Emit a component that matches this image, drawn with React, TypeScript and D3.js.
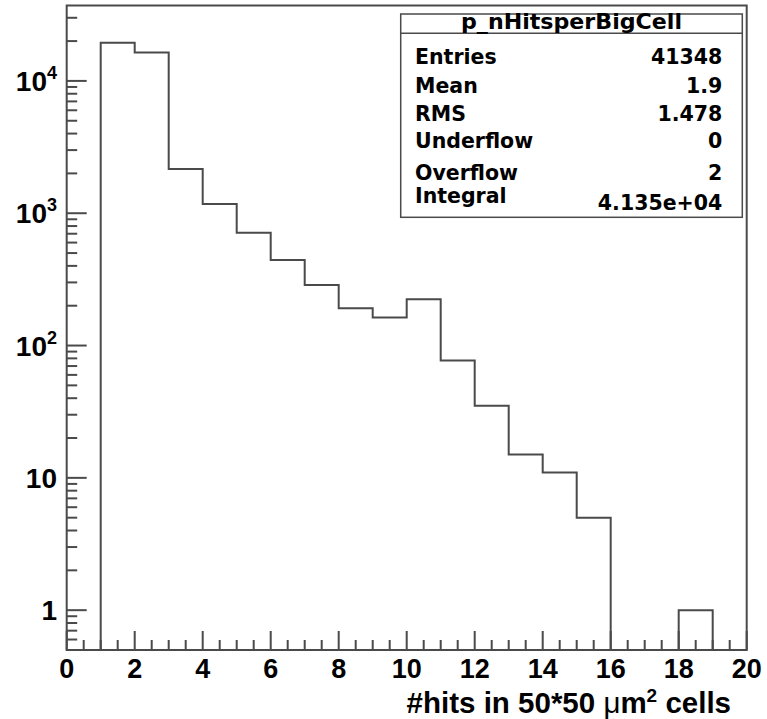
import React from "react";
import * as d3 from "d3";

const binLow: number[] = [0, 1, 2, 3, 4, 5, 6, 7, 8, 9, 10, 11, 12, 13, 14, 15, 16, 17, 18, 19];
const counts: number[] = [0, 19450, 16400, 2160, 1175, 713, 444, 287, 191, 163, 224, 77, 35, 15, 11, 5, 0, 0, 1, 0];
const xTickLabels: string[] = ["0", "2", "4", "6", "8", "10", "12", "14", "16", "18", "20"];
const yMajor: number[] = [1, 10, 100, 1000, 10000];
const statsTitle = "p_nHitsperBigCell";
const statsNames: string[] = ["Entries", "Mean", "RMS", "Underflow", "Overflow", "Integral"];
const statsValues: string[] = ["41348", "1.9", "1.478", "0", "2", "4.135e+04"];

const W = 767, H = 719;
const L = 66.7, R = 746.7, T = 5.5, B = 650;
const stroke = "#4a4a4a";
const font = "'Liberation Sans', Arial, Helvetica, sans-serif";
const boxFont = "'DejaVu Sans', sans-serif";

export default function App() {
  const x = d3.scaleLinear().domain([0, 20]).range([L, R]);
  const y = d3.scaleLog().domain([0.5, 37150]).range([B, T]);

  const path = d3.path();
  path.moveTo(x(binLow[0]), B);
  binLow.forEach((lo, i) => {
    const c = counts[i];
    const yy = c > 0 ? y(c) : B;
    path.lineTo(x(lo), yy);
    path.lineTo(x(lo + 1), yy);
  });
  path.lineTo(x(binLow[binLow.length - 1] + 1), B);

  const yMinor: number[] = [];
  for (let e = -1; e <= 4; e++) {
    for (let m = 2; m <= 9; m++) {
      const v = m * Math.pow(10, e);
      if (v >= 0.5 && v <= 37150) yMinor.push(v);
    }
  }
  const xMinor = d3.range(0, 20.01, 0.5);
  const xMajorVals = xTickLabels.map((s) => +s);

  const bxL = 400.7, bxR = 742.3, bxT = 14, bxB = 217.3, sep = 33.3;
  const rowY = [64.3, 93.3, 120.7, 148.3, 180, 203];
  const valY = [64.3, 93.3, 120.7, 148.3, 180, 210];

  return (
    <svg width={W} height={H} style={{ position: "absolute", left: 0, top: 0, background: "#fff" }}>
      <rect x={0} y={0} width={W} height={H} fill="#fff" />
      <path d={path.toString()} fill="none" stroke={stroke} strokeWidth={2} />
      {yMajor.map((v) => (
        <line key={"ym" + v} x1={L} x2={L + 20} y1={y(v)} y2={y(v)} stroke={stroke} strokeWidth={2} />
      ))}
      {yMinor.map((v) => (
        <line key={"yn" + v} x1={L} x2={L + 10.5} y1={y(v)} y2={y(v)} stroke={stroke} strokeWidth={2} />
      ))}
      {xMinor.map((v) => {
        const major = xMajorVals.includes(v);
        return (
          <line key={"xt" + v} x1={x(v)} x2={x(v)} y1={B} y2={B - (major ? 19 : 10)} stroke={stroke} strokeWidth={2} />
        );
      })}
      <rect x={L} y={T} width={R - L} height={B - T} fill="none" stroke={stroke} strokeWidth={2} />
      {yMajor.map((v) => {
        const e = Math.round(Math.log10(v));
        const yy = y(v) + 10;
        if (e === 0)
          return (
            <text key={"yl" + v} x={57} y={yy} textAnchor="end" fontFamily={font} fontWeight="bold" fontSize={28}>1</text>
          );
        if (e === 1)
          return (
            <text key={"yl" + v} x={57} y={yy} textAnchor="end" fontFamily={font} fontWeight="bold" fontSize={28}>10</text>
          );
        return (
          <text key={"yl" + v} x={57} y={yy} textAnchor="end" fontFamily={font} fontWeight="bold" fontSize={28}>
            10<tspan fontSize={18} dy={-12}>{e}</tspan>
          </text>
        );
      })}
      {xTickLabels.map((s) => (
        <text key={"xl" + s} x={x(+s)} y={678} textAnchor="middle" fontFamily={font} fontWeight="bold" fontSize={27}>{s}</text>
      ))}
      <text x={731} y={713} textAnchor="end" fontFamily={font} fontWeight="bold" fontSize={29.5}>
        #hits in 50*50 <tspan fontWeight="normal">μ</tspan>m<tspan fontSize={19} dy={-11}>2</tspan><tspan dy={11}> cells</tspan>
      </text>
      <rect x={bxL} y={bxT} width={bxR - bxL} height={bxB - bxT} fill="#fff" stroke={stroke} strokeWidth={1.5} />
      <line x1={bxL} x2={bxR} y1={sep} y2={sep} stroke={stroke} strokeWidth={1.5} />
      <text x={(bxL + bxR) / 2} y={29.3} textAnchor="middle" fontFamily={boxFont} fontWeight="bold" fontSize={20.5}
        textLength={221} lengthAdjust="spacingAndGlyphs">{statsTitle}</text>
      {statsNames.map((n, i) => (
        <text key={"sn" + n} x={415} y={rowY[i]} fontFamily={boxFont} fontWeight="bold" fontSize={20.5}>{n}</text>
      ))}
      {statsValues.map((v, i) => (
        <text key={"sv" + i} x={722.3} y={valY[i]} textAnchor="end" fontFamily={boxFont} fontWeight="bold" fontSize={20.5}>{v}</text>
      ))}
    </svg>
  );
}
